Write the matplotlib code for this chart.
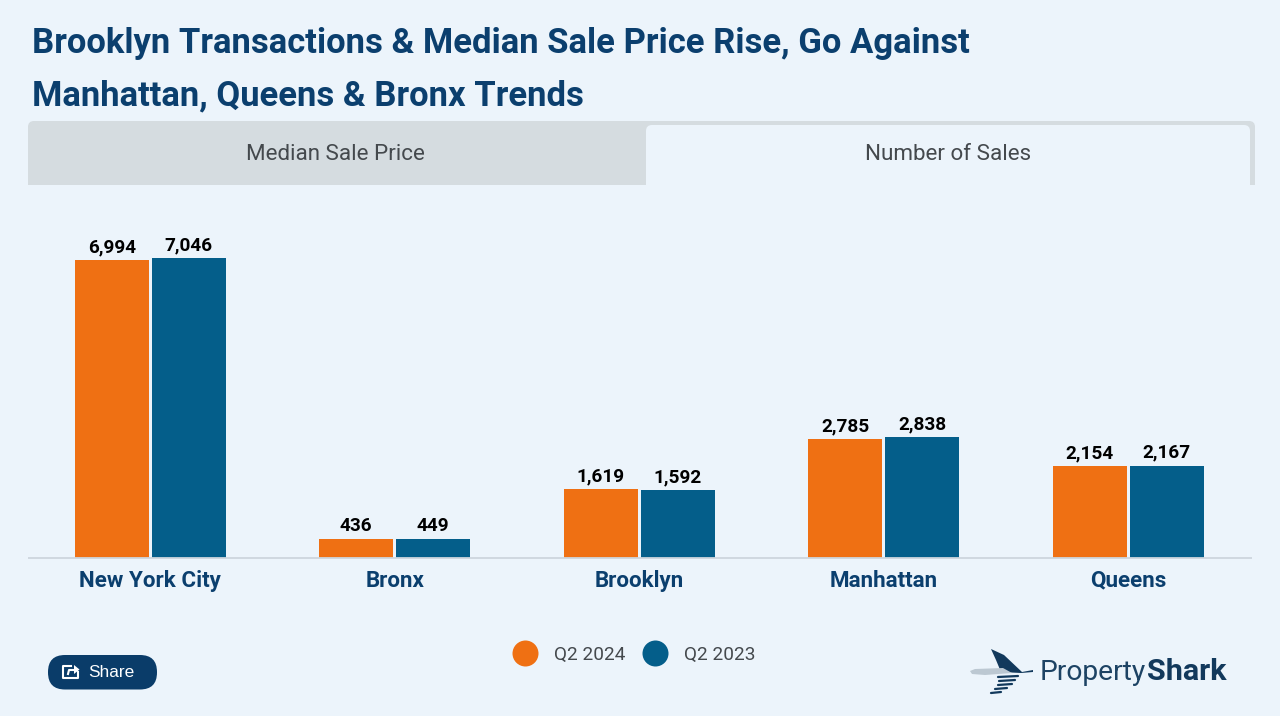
import matplotlib
matplotlib.use("Agg")
import matplotlib.pyplot as plt
import numpy as np
from matplotlib.patches import FancyBboxPatch, Rectangle, Polygon
from matplotlib.lines import Line2D

categories = ["New York City", "Bronx", "Brooklyn", "Manhattan", "Queens"]
q2_2024 = [6994, 436, 1619, 2785, 2154]
q2_2023 = [7046, 449, 1592, 2838, 2167]
series_names = ["Q2 2024", "Q2 2023"]
tabs = ["Median Sale Price", "Number of Sales"]
title_lines = ["Brooklyn Transactions & Median Sale Price Rise, Go Against",
               "Manhattan, Queens & Bronx Trends"]

BG = "#ecf4fb"; ORANGE = "#ef7013"; BLUE = "#045e8a"; NAVY = "#0b3f6e"; GREY = "#d5dce0"
W, H = 1280, 716
px = 0.72
plt.rcParams["font.family"] = ["Roboto", "DejaVu Sans"]

fig = plt.figure(figsize=(W/100, H/100), dpi=100, facecolor=BG)

# page chrome in pixel coordinates
bgax = fig.add_axes([0, 0, 1, 1], zorder=0)
bgax.set_xlim(0, W); bgax.set_ylim(H, 0); bgax.axis("off")

for i, line in enumerate(title_lines):
    bgax.text(32, 43 + 53*i, line, fontsize=34.65*px, fontweight="bold", color=NAVY, va="center", ha="left")

def top_round(ax, x0, y0, x1, y1, r, color, z):
    ax.add_patch(FancyBboxPatch((x0, y0), x1-x0, y1-y0+12, boxstyle=f"round,pad=0,rounding_size={r}",
                                fc=color, ec="none", zorder=z))
    ax.add_patch(Rectangle((x0-1, y1), x1-x0+2, 14, fc=BG, ec="none", zorder=z+0.5))

top_round(bgax, 28, 121, 1255, 185, 6, GREY, 1)
top_round(bgax, 646, 125, 1250, 185, 6, BG, 2)
bgax.text(335.5, 154, tabs[0], fontsize=22.4*px, color="#44494d", ha="center", va="center", zorder=4)
bgax.text(948, 154, tabs[1], fontsize=22.4*px, color="#44494d", ha="center", va="center", zorder=4)

# Share button
bgax.add_patch(FancyBboxPatch((48, 655), 109, 34.5, boxstyle="round,pad=0,rounding_size=17",
                              fc="#0a3c69", ec="none", zorder=2))
bgax.text(88, 672.5, "Share", fontsize=17.2*px, color="white", family="Liberation Sans", va="center", ha="left", zorder=3)
bgax.plot([71, 63, 63, 78, 78], [666, 666, 678, 678, 672], color="white", lw=1.5, zorder=3)
bgax.plot([68, 69, 77], [674, 670, 670], color="white", lw=1.5, zorder=3)
bgax.add_patch(Polygon([[74, 665], [79.5, 669.5], [74, 674]], fc="white", ec="none", zorder=3))

# Logo
bgax.add_patch(Polygon([[991, 649], [1004, 655], [1022, 672], [1033, 670], [1033, 672], [1021, 673], [1001, 672], [996, 660]],
                       fc="#12395c", ec="none", zorder=2))
bgax.add_patch(Polygon([[970, 671], [975, 669], [1003, 668], [1012, 673], [985, 675], [972, 674]], fc="#bcc8d2", ec="none", zorder=2))
for y, x0, x1 in [(677, 998, 1018), (681, 999, 1015), (685, 998, 1012), (689, 995, 1007), (693, 991, 1001)]:
    bgax.plot([x0, x1], [y, y-1], color="#12395c", lw=1.6, solid_capstyle="round", zorder=2)
bgax.text(1039.5, 672, "Property", fontsize=28.2*px, color="#1d4364", fontweight="regular", va="center", ha="left", zorder=3)
bgax.text(1147, 672, "Shark", fontsize=30.5*px, color="#12395c", fontweight="bold", va="center", ha="left", zorder=3)

# Chart: axes spans x 28..1252 px, baseline at y=558 px, top at y=185
ax = fig.add_axes([28/W, 1-558/H, (1252-28)/W, (558-185)/H], zorder=3)
ax.patch.set_alpha(0)
x = np.arange(len(categories))
step = 244.5
bw = 74/step
off = 38.5/step
ax.set_xlim(-0.5, -0.5 + (1252-28)/step)
ax.set_ylim(0, 373/300*7046)
b1 = ax.bar(x-off, q2_2024, bw, color=ORANGE)
b2 = ax.bar(x+off, q2_2023, bw, color=BLUE)
for bars in (b1, b2):
    ax.bar_label(bars, labels=[f"{b.get_height():,.0f}" for b in bars], padding=2.9,
                 fontsize=19*px, fontweight="bold", color="black")
ax.set_xticks(x, categories, fontsize=22.4*px, fontweight="bold", color=NAVY)
ax.tick_params(axis="x", length=0, pad=8.3)
ax.set_yticks([])
for s in ["top", "left", "right"]:
    ax.spines[s].set_visible(False)
ax.spines["bottom"].set_color("#cdd6de"); ax.spines["bottom"].set_linewidth(1.3)
ax.spines["bottom"].set_capstyle("butt")

handles = [Line2D([], [], marker="o", ls="none", ms=26*px, mfc=c, mec="none") for c in (ORANGE, BLUE)]
fig.legend(handles, series_names, ncol=2, frameon=False, loc="center", bbox_to_anchor=(634.5/W, 1-654.7/H),
           fontsize=19*px, labelcolor="#44494d", columnspacing=1.0, handletextpad=0.91, handlelength=1.2)

fig.savefig("out.png", dpi=100, facecolor=BG)
